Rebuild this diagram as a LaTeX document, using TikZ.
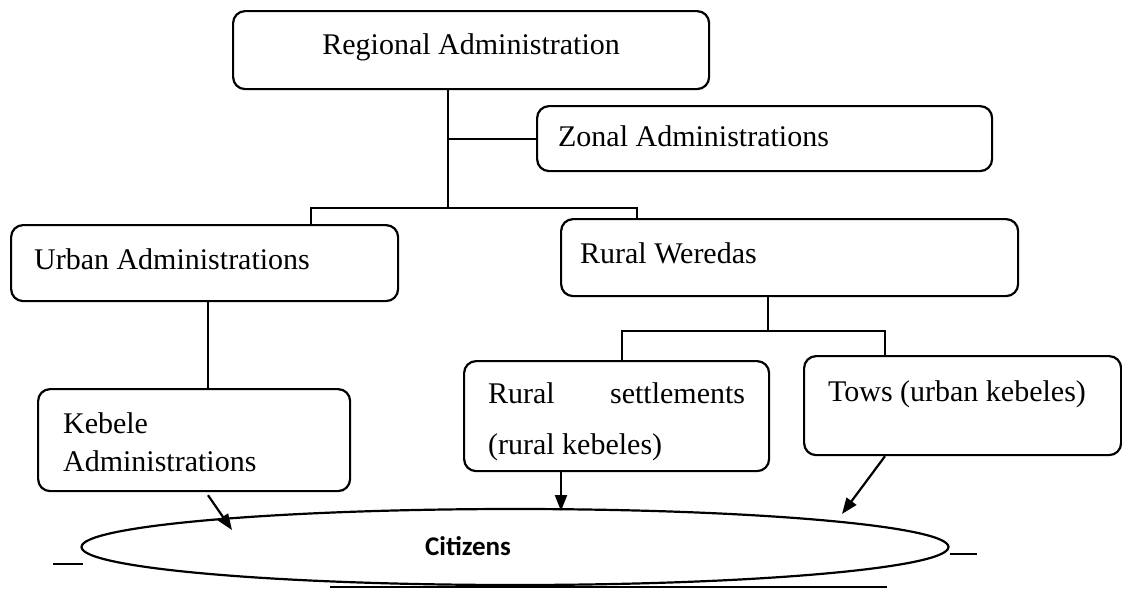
\documentclass[tikz,border=0pt]{standalone}
\usepackage{fontspec}
\setmainfont{Liberation Serif}
\newfontfamily\citfont{Carlito}
\usepackage{tikz}
\usetikzlibrary{shapes,arrows,positioning,calc,arrows.meta}
\tikzstyle{orgbox} = [draw, rounded corners=12pt, line width=2.2pt, anchor=north west, inner ysep=0pt, align=flush left, font=\fontsize{30}{36}\selectfont]
\tikzstyle{link} = [line width=2.2pt]
\tikzstyle{flow} = [line width=2.2pt, -{Triangle[length=16pt, width=12pt]}]

\begin{document}
\begin{tikzpicture}[x=1pt, y=-1pt]
    \useasboundingbox (0,0) rectangle (1122,589);

    % Boxes
    \node[orgbox, align=flush center, inner xsep=20pt, text width=436pt, text height=43pt, text depth=35pt] (regional) at (232,10) {Regional Administration};
    \node[orgbox, inner xsep=21pt, text width=413pt, text height=40pt, text depth=25pt] (zonal) at (536,105) {Zonal Administrations};
    \node[orgbox, inner xsep=23pt, text width=341pt, text height=44pt, text depth=32pt] (urban) at (10,224) {Urban Administrations};
    \node[orgbox, inner xsep=19pt, text width=419pt, text height=44pt, text depth=33pt] (rural) at (560,218) {Rural Weredas};
    \node[orgbox, inner xsep=25pt, text width=262pt, text height=44pt, text depth=58pt] (kebele) at (37,388) {Kebele\\[2pt]Administrations};
    \node[orgbox, inner xsep=24pt, text width=257pt, text height=42pt, text depth=68pt] (settle) at (463,360) {Rural\hfill settlements\\[15pt](rural kebeles)};
    \node[orgbox, inner xsep=24pt, text width=269pt, text height=45pt, text depth=54pt] (tows) at (803,355) {Tows (urban kebeles)};

    % Links
    \coordinate (hub) at (448,208);
    \coordinate (ubar) at (311,208);
    \coordinate (rbar) at (637,208);
    \draw[link] (regional.south -| hub) -- (hub);
    \draw[link] (zonal.west) -- (zonal.west -| hub);
    \draw[link] (urban.north -| ubar) -- (ubar) -- (rbar) -- (rural.north -| rbar);
    \coordinate (uk) at (208,300);
    \draw[link] (urban.south -| uk) -- (kebele.north -| uk);
    \coordinate (rhub) at (768,331);
    \coordinate (sbar) at (622,331);
    \coordinate (tbar) at (885,331);
    \draw[link] (rural.south -| rhub) -- (rhub);
    \draw[link] (settle.north -| sbar) -- (sbar) -- (tbar) -- (tows.north -| tbar);

    % Citizens
    \node[ellipse, draw, line width=2.2pt, minimum width=867pt, minimum height=76pt, inner sep=0pt] (citizens) at (515,547) {};
    \node[font=\citfont\bfseries\fontsize{27}{32}\selectfont, anchor=base] (citlabel) at (468,555) {Citizens};

    % Arrows
    \coordinate (kend) at (232,530);
    \coordinate (send) at (561,511);
    \coordinate (tend) at (842,514);
    \draw[flow] ($(kebele.south -| uk)+(0,3)$) -- (kend);
    \draw[flow] (settle.south -| send) -- (send);
    \draw[flow] (tows.south -| tbar) -- (tend);

    % Marks
    \draw[link] (53,564) -- (83,564);
    \draw[link] (950,554) -- (977,554);
    \draw[link] (330,587) -- (887,587);
\end{tikzpicture}
\end{document}
